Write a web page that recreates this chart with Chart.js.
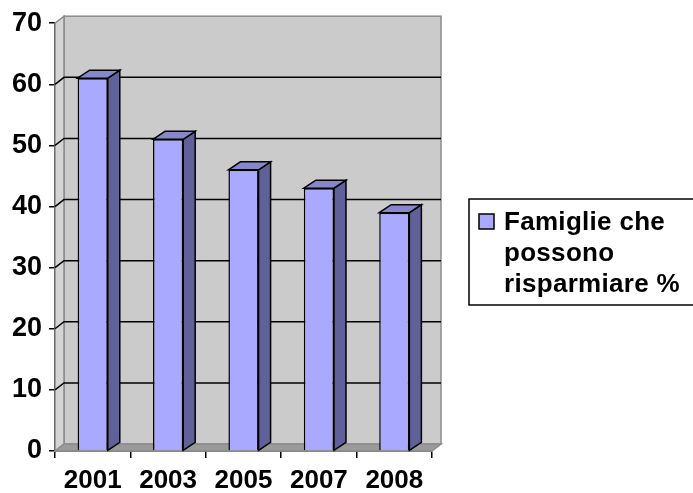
<!DOCTYPE html>
<html>
<head>
<meta charset="utf-8">
<script src="https://cdn.jsdelivr.net/npm/chart.js@4/dist/chart.umd.min.js"></script>
<style>
  html, body { margin: 0; padding: 0; background: #fff; }
  #wrap { width: 693px; height: 493px; }
</style>
</head>
<body>
<div id="wrap"><canvas id="chart" width="693" height="493"></canvas></div>
<script>
// dati del grafico
const years = ['2001', '2003', '2005', '2007', '2008'];
const savers = [61, 51, 46, 43, 39];
const legendLines = ['Famiglie che', 'possono', 'risparmiare %'];

const FONT = "'Liberation Sans', Arial, sans-serif";
const wall = { dx: 9, dy: 7 };
const bar3d = { dx: 12, dy: 8 };

// pareti, pavimento e griglia in 3D
const walls3d = {
    id: 'walls3d',
    beforeDatasetsDraw(chart) {
        const ctx = chart.ctx;
        const a = chart.chartArea;
        const L = a.left, R = a.right, T = a.top, B = a.bottom;
        ctx.save();
        ctx.lineWidth = 1.5;
        ctx.strokeStyle = '#8c8c8c';
        // parete di fondo
        ctx.fillStyle = '#cbcbcb';
        ctx.fillRect(L + wall.dx, T - wall.dy, R - L, B - T);
        ctx.strokeRect(L + wall.dx, T - wall.dy, R - L, B - T);
        // parete laterale
        ctx.fillStyle = '#d4d4d4';
        ctx.beginPath();
        ctx.moveTo(L, T);
        ctx.lineTo(L + wall.dx, T - wall.dy);
        ctx.lineTo(L + wall.dx, B - wall.dy);
        ctx.lineTo(L, B);
        ctx.closePath();
        ctx.fill();
        ctx.stroke();
        // pavimento
        ctx.fillStyle = '#9a9a9a';
        ctx.beginPath();
        ctx.moveTo(L, B);
        ctx.lineTo(L + wall.dx, B - wall.dy);
        ctx.lineTo(R + wall.dx, B - wall.dy);
        ctx.lineTo(R, B);
        ctx.closePath();
        ctx.fill();
        ctx.stroke();
        // griglia
        const ys = chart.scales.y;
        ctx.strokeStyle = '#000';
        ctx.lineWidth = 1.5;
        ys.ticks.forEach(t => {
            if (t.value <= ys.min || t.value >= ys.max) return;
            const y = ys.getPixelForValue(t.value);
            ctx.beginPath();
            ctx.moveTo(L, y);
            ctx.lineTo(L + wall.dx, y - wall.dy);
            ctx.lineTo(R + wall.dx, y - wall.dy);
            ctx.stroke();
        });
        ctx.restore();
    },
    afterDatasetsDraw(chart) {
        const ctx = chart.ctx;
        ctx.save();
        ctx.lineWidth = 1.5;
        ctx.strokeStyle = '#000';
        chart.getDatasetMeta(0).data.forEach(el => {
            const p = el.getProps(['x', 'y', 'base', 'width'], true);
            const l = p.x - p.width / 2, r = p.x + p.width / 2;
            // lato
            ctx.fillStyle = '#616199';
            ctx.beginPath();
            ctx.moveTo(r, p.y);
            ctx.lineTo(r + bar3d.dx, p.y - bar3d.dy);
            ctx.lineTo(r + bar3d.dx, p.base - bar3d.dy);
            ctx.lineTo(r, p.base);
            ctx.closePath();
            ctx.fill();
            ctx.stroke();
            // cima
            ctx.fillStyle = '#8787cc';
            ctx.beginPath();
            ctx.moveTo(l, p.y);
            ctx.lineTo(l + bar3d.dx, p.y - bar3d.dy);
            ctx.lineTo(r + bar3d.dx, p.y - bar3d.dy);
            ctx.lineTo(r, p.y);
            ctx.closePath();
            ctx.fill();
            ctx.stroke();
        });
        ctx.restore();
    }
};

// legenda a destra
const boxLegend = {
    id: 'boxLegend',
    afterDraw(chart) {
        const ctx = chart.ctx;
        const ds = chart.data.datasets[0];
        ctx.save();
        ctx.lineWidth = 1.5;
        ctx.strokeStyle = '#000';
        ctx.fillStyle = '#fff';
        ctx.fillRect(469, 199, 240, 106);
        ctx.strokeRect(469, 199, 240, 106);
        ctx.fillStyle = ds.backgroundColor;
        ctx.fillRect(479, 214, 15, 15);
        ctx.strokeRect(479, 214, 15, 15);
        ctx.fillStyle = '#000';
        ctx.font = 'bold 26px ' + FONT;
        ctx.letterSpacing = '0.3px';
        ctx.textBaseline = 'alphabetic';
        ds.label.forEach((line, i) => {
            ctx.fillText(line, 504, 230 + i * 31);
        });
        ctx.restore();
    }
};

new Chart(document.getElementById('chart'), {
    type: 'bar',
    data: {
        labels: years,
        datasets: [{
            label: legendLines,
            data: savers,
            backgroundColor: '#a9a9ff',
            borderColor: '#000',
            borderWidth: 1.5,
            barPercentage: 0.4,
            categoryPercentage: 1
        }]
    },
    options: {
        responsive: false,
        animation: false,
        layout: { padding: { top: 22, right: 261, left: 0, bottom: 0 } },
        plugins: { legend: { display: false }, tooltip: { enabled: false } },
        scales: {
            y: {
                min: 0,
                max: 70,
                ticks: { stepSize: 10, color: '#000', padding: 7, font: { family: FONT, size: 27, weight: 'bold' } },
                grid: { drawOnChartArea: false, tickLength: 6, color: '#000', lineWidth: 1.5 },
                border: { display: true, color: '#000', width: 1.5 },
                afterFit(s) { s.width = 55; }
            },
            x: {
                ticks: { color: '#000', padding: 7, font: { family: FONT, size: 26, weight: 'bold' } },
                grid: { offset: true, drawOnChartArea: false, tickLength: 7, color: '#000', lineWidth: 1.5 },
                border: { display: true, color: '#000', width: 1.5 },
                afterFit(s) { s.height = 42; }
            }
        }
    },
    plugins: [walls3d, boxLegend]
});
</script>
</body>
</html>
